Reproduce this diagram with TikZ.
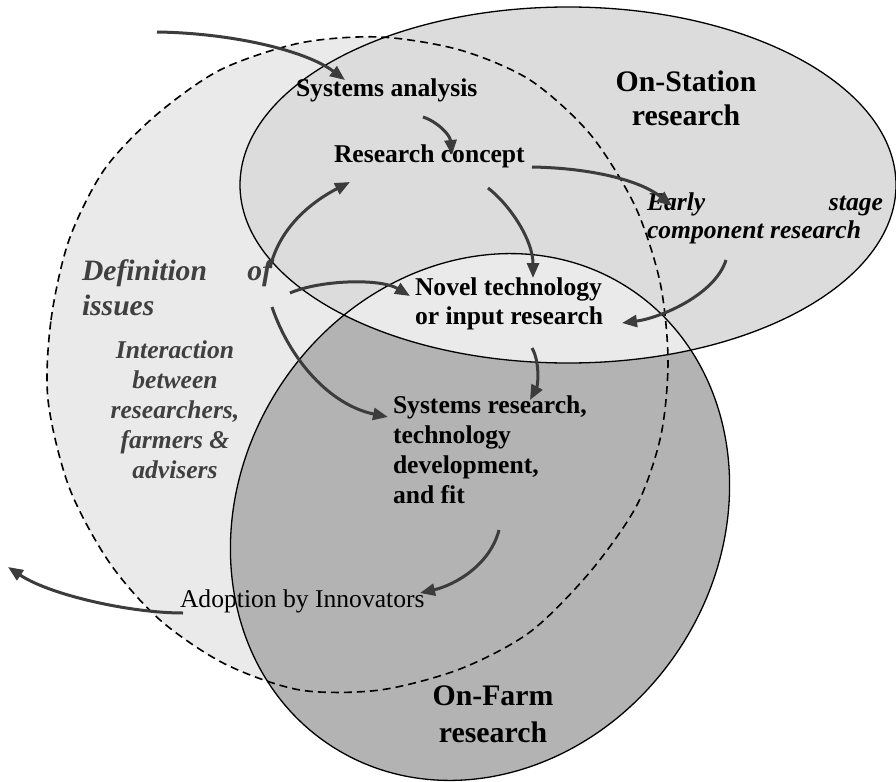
\documentclass[tikz,border=0pt]{standalone}
\usepackage{fontspec}
\setmainfont{Liberation Serif}
\usetikzlibrary{arrows.meta}
\definecolor{lightfill}{HTML}{EAEAEA}
\definecolor{stationfill}{HTML}{DCDCDC}
\definecolor{farmfill}{HTML}{B3B3B3}
\definecolor{arrowgray}{HTML}{3C3C3C}
\definecolor{textgray}{HTML}{404040}
\newcommand\stackL[1]{\vtop{\halign{##\hfil\cr#1\crcr}}}
\newcommand\stackC[1]{\vtop{\halign{\hfil##\hfil\cr#1\crcr}}}
\newcommand\issuesoutline{plot[smooth cycle] coordinates {(48,400) (51,320) (69,240) (104,170) (155,116) (220,70) (300,43) (380,37) (460,50) (530,80) (590,134) (635,206) (660,282) (668,360) (661,435) (637,505) (590,572) (530,632) (460,669) (380,690) (300,690) (225,664) (160,620) (109,562) (69,487)}}
\begin{document}
\begin{tikzpicture}[x=1pt,y=-1pt,
  flow/.style={draw=arrowgray, line width=3pt, -{Triangle[length=15pt,width=12pt]}},
  txt/.style={inner sep=0pt, outer sep=0pt, anchor=base west},
  ctxt/.style={inner sep=0pt, outer sep=0pt, anchor=base},
  body/.style={font=\fontsize{25.6}{29.5}\selectfont\bfseries},
  big/.style={font=\fontsize{29.8}{34}\selectfont\bfseries},
  outline/.style={draw=black, line width=1.3pt},
  dashline/.style={draw=black, line width=1.6pt, dash pattern=on 8pt off 5pt}]
\useasboundingbox (0,0) rectangle (896,781);
% regions
\fill[lightfill] \issuesoutline;
\fill[stationfill] (568,185) ellipse [x radius=328pt, y radius=178pt];
\fill[farmfill, rotate around={57:(480,517)}] (480,517) ellipse [x radius=273pt, y radius=239pt];
\begin{scope}
  \clip (568,185) ellipse [x radius=328pt, y radius=178pt];
  \fill[lightfill, rotate around={57:(480,517)}] (480,517) ellipse [x radius=273pt, y radius=239pt];
\end{scope}
\draw[outline] (568,185) ellipse [x radius=328pt, y radius=178pt];
\draw[outline, rotate around={57:(480,517)}] (480,517) ellipse [x radius=273pt, y radius=239pt];
\draw[dashline] \issuesoutline;
% texts
\node[txt, body] (sysan) at (296,97) {Systems analysis};
\node[txt, body] (rescon) at (334,162) {Research concept};
\node[ctxt, big] (station) at (686,92) {\stackC{On-Station\cr research}};
\node[txt, font=\fontsize{25.6}{28}\selectfont\bfseries\itshape] (early) at (647,210) {\stackL{\hbox to 236pt{Early\hfill stage}\cr component research}};
\node[txt, font=\fontsize{25.6}{29}\selectfont\bfseries] (novel) at (415,295) {\stackL{Novel technology\cr or input research}};
\node[txt, font=\fontsize{25.6}{30}\selectfont\bfseries] (sysres) at (393,413) {\stackL{Systems research,\cr technology\cr development,\cr and fit}};
\node[txt, text=textgray, font=\fontsize{29.6}{35}\selectfont\bfseries\itshape] (defn) at (82,280) {\stackL{\hbox to 190pt{Definition\hfill of}\cr issues}};
\node[ctxt, text=textgray, font=\fontsize{25.6}{30}\selectfont\bfseries\itshape] (interact) at (175,358) {\stackC{Interaction\cr between\cr researchers,\cr farmers \&\cr advisers}};
\node[txt, font=\fontsize{25.6}{29.5}\selectfont] (adopt) at (180,607) {Adoption by Innovators};
\node[ctxt, font=\fontsize{29.8}{37}\selectfont\bfseries] (farm) at (493,705) {\stackC{On-Farm\cr research}};
% arrow end points
\coordinate (a0s) at (157,32);  \coordinate (a0e) at (345,80);
\coordinate (a1s) at (423,117); \coordinate (a1e) at (452,155);
\coordinate (a2s) at (270,268); \coordinate (a2e) at (350,182);
\coordinate (a3s) at (290,293); \coordinate (a3e) at (410,296);
\coordinate (a4s) at (272,307); \coordinate (a4e) at (388,417);
\coordinate (a5s) at (532,167); \coordinate (a5e) at (672,206);
\coordinate (a6s) at (488,188); \coordinate (a6e) at (533,278);
\coordinate (a7s) at (726,260); \coordinate (a7e) at (622,323);
\coordinate (a8s) at (532,348); \coordinate (a8e) at (530,400);
\coordinate (a9s) at (499,530); \coordinate (a9e) at (420,593);
\coordinate (a10s) at (183,613); \coordinate (a10e) at (8,567);
% arrows
\draw[flow] (a0s) .. controls (230,33) and (305,50) .. (a0e);
\draw[flow] (a1s) .. controls (438,122) and (450,135) .. (a1e);
\draw[flow] (a2s) .. controls (280,225) and (315,200) .. (a2e);
\draw[flow] (a3s) .. controls (320,280) and (380,278) .. (a3e);
\draw[flow] (a4s) .. controls (290,360) and (330,405) .. (a4e);
\draw[flow] (a5s) .. controls (590,168) and (640,180) .. (a5e);
\draw[flow] (a6s) .. controls (510,205) and (533,240) .. (a6e);
\draw[flow] (a7s) .. controls (715,295) and (660,318) .. (a7e);
\draw[flow] (a8s) .. controls (540,362) and (538,385) .. (a8e);
\draw[flow] (a9s) .. controls (490,565) and (455,585) .. (a9e);
\draw[flow] (a10s) .. controls (130,613) and (50,595) .. (a10e);
\end{tikzpicture}
\end{document}
